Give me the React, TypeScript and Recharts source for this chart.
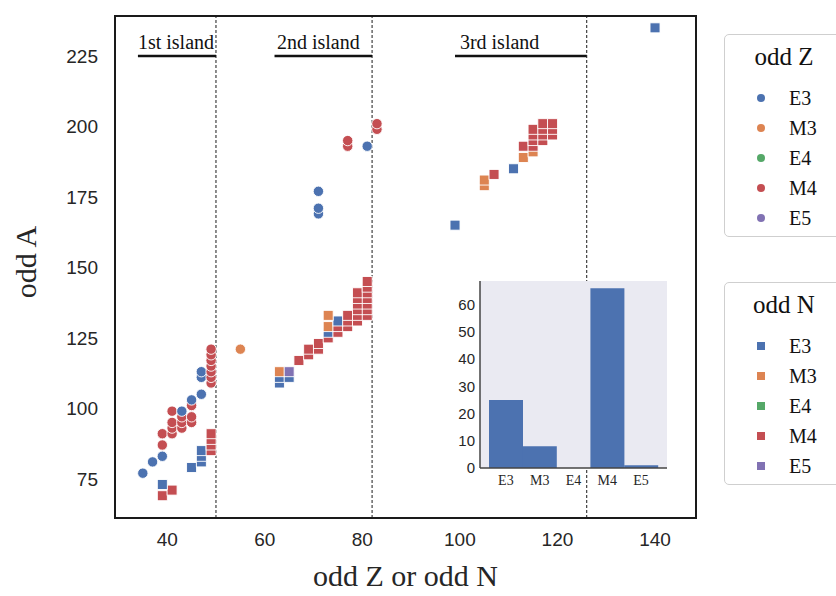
import React from "react";
import {
  ScatterChart,
  Scatter,
  XAxis,
  YAxis,
  ReferenceLine,
  ReferenceArea,
  ReferenceDot,
  BarChart,
  Bar,
  CartesianGrid,
} from "recharts";

const SERIF = '"Liberation Serif", "DejaVu Serif", serif';
const SANS = '"Liberation Sans", Arial, sans-serif';

const MULTIPOLARITIES = ["E3", "M3", "E4", "M4", "E5"];
const COLORS: Record<string, string> = {
  E3: "#4C72B0",
  M3: "#DD8452",
  E4: "#55A868",
  M4: "#C44E52",
  E5: "#8172B3",
};

// odd-Z isomers as [Z, A]
const oddZ_E3 = [[35, 77], [37, 81], [39, 83], [43, 99], [45, 103], [47, 105], [47, 111], [47, 113], [71, 169], [71, 171], [71, 177], [81, 193]];
const oddZ_M3 = [[55, 121]];
const oddZ_E4: number[][] = [];
const oddZ_M4 = [
  [39, 87], [39, 91],
  [41, 91], [41, 93], [41, 95], [41, 99],
  [43, 93], [43, 95], [43, 97],
  [45, 95], [45, 97], [45, 101],
  [49, 109], [49, 111], [49, 113], [49, 115], [49, 117], [49, 119], [49, 121],
  [77, 193], [77, 195],
  [83, 199], [83, 201],
];
const oddZ_E5: number[][] = [];

// odd-N isomers as [N, A]
const oddN_E3 = [[39, 73], [45, 79], [47, 81], [47, 83], [47, 85], [63, 109], [63, 111], [65, 111], [73, 127], [75, 131], [99, 165], [111, 185], [140, 235]];
const oddN_M3 = [[63, 113], [73, 129], [73, 133], [105, 179], [105, 181], [113, 189], [115, 191]];
const oddN_E4: number[][] = [];
const oddN_M4 = [
  [39, 69], [41, 71],
  [49, 85], [49, 87], [49, 89], [49, 91],
  [67, 117], [69, 119], [69, 121], [71, 121], [71, 123], [73, 125],
  [75, 127], [75, 129], [77, 129], [77, 131], [77, 133],
  [79, 131], [79, 133], [79, 135], [79, 137], [79, 139], [79, 141],
  [81, 133], [81, 135], [81, 137], [81, 139], [81, 141], [81, 143], [81, 145],
  [107, 183], [113, 193],
  [115, 193], [115, 195], [115, 197], [115, 199],
  [117, 195], [117, 197], [117, 199], [117, 201],
  [119, 197], [119, 199], [119, 201],
];
const oddN_E5 = [[65, 113]];

// inset histogram of all isomers
const histCounts = [25, 8, 0, 66, 1];
const histTicks = [0, 10, 20, 30, 40, 50, 60];

const xTicks = [40, 60, 80, 100, 120, 140];
const yTicks = [75, 100, 125, 150, 175, 200, 225];

const magicNumbers = [50, 82, 126];
const islandNames = ["1st island", "2nd island", "3rd island"];
const islandStart = [34, 62, 99];
const islandEnd = [50, 82, 126];
const islandLabelX = [34, 62.5, 100];
const islandA = 225;

const X_DOMAIN: [number, number] = [29.3, 148.4];
const Y_DOMAIN: [number, number] = [61.1, 239.2];

function toPoints(groups: Record<string, number[][]>) {
  const pts: { x: number; y: number; type: string }[] = [];
  for (const t of Object.keys(groups)) {
    for (const [x, y] of groups[t]) pts.push({ x, y, type: t });
  }
  // matplotlib draws in data order; sorted by A, so heavier ones sit on top
  return pts.sort((a, b) => a.y - b.y || a.x - b.x);
}

const oddZPoints = toPoints({ E3: oddZ_E3, M3: oddZ_M3, E4: oddZ_E4, M4: oddZ_M4, E5: oddZ_E5 });
const oddNPoints = toPoints({ E3: oddN_E3, M3: oddN_M3, E4: oddN_E4, M4: oddN_M4, E5: oddN_E5 });
const histData = MULTIPOLARITIES.map((name, i) => ({ name, count: histCounts[i] }));

const typeOf = (p: any) => p.payload?.type ?? p.type;

function CircleMark(p: any) {
  if (p.cx == null) return null;
  return <circle cx={p.cx} cy={p.cy} r={5.2} fill={COLORS[typeOf(p)]} stroke="#fff" strokeWidth={0.9} />;
}

function SquareMark(p: any) {
  if (p.cx == null) return null;
  return (
    <rect x={p.cx - 5} y={p.cy - 5} width={10} height={10} fill={COLORS[typeOf(p)]} stroke="#fff" strokeWidth={0.9} />
  );
}

function XTitle(props: any) {
  const vb = props.viewBox || { x: 115, y: 518, width: 581, height: 40 };
  return (
    <text x={vb.x + vb.width / 2} y={vb.y + 68} textAnchor="middle" fontFamily={SERIF} fontSize={30} fill="#262626">
      odd Z or odd N
    </text>
  );
}

function YTitle(props: any) {
  const vb = props.viewBox || { x: 55, y: 16, width: 60, height: 502 };
  const x = vb.x - 19;
  const y = vb.y + vb.height / 2 - 5;
  return (
    <text x={x} y={y} transform={`rotate(-90 ${x} ${y})`} textAnchor="middle" fontFamily={SERIF} fontSize={30} fill="#262626">
      odd A
    </text>
  );
}

function LegendBox({ title, top, square }: { title: string; top: number; square: boolean }) {
  return (
    <div
      style={{
        position: "absolute",
        left: 724,
        top,
        width: 130,
        height: 203,
        boxSizing: "border-box",
        border: "1.5px solid #cfcfcf",
        borderRadius: 5,
        background: "#fff",
      }}
    >
      <div
        style={{
          position: "absolute",
          left: 0,
          width: 118,
          top: 22 - 16,
          height: 32,
          lineHeight: "32px",
          textAlign: "center",
          fontFamily: SERIF,
          fontSize: 25,
          color: "#111",
        }}
      >
        {title}
      </div>
      {MULTIPOLARITIES.map((m, i) => (
        <div key={m} style={{ position: "absolute", left: 0, top: 62.5 + i * 30 - 15, height: 30, width: 130 }}>
          <div
            style={{
              position: "absolute",
              left: 32,
              top: 11,
              width: 8,
              height: 8,
              borderRadius: square ? 0 : 4,
              background: COLORS[m],
            }}
          />
          <div
            style={{
              position: "absolute",
              left: 64,
              top: 0,
              lineHeight: "30px",
              fontFamily: SERIF,
              fontSize: 20,
              color: "#111",
            }}
          >
            {m}
          </div>
        </div>
      ))}
    </div>
  );
}

export default function App() {
  return (
    <div style={{ position: "absolute", left: 0, top: 0, width: 836, height: 596, overflow: "hidden", background: "#fff" }}>
      <ScatterChart width={836} height={596} margin={{ top: 16, right: 140, bottom: 38, left: 55 }}>
        <XAxis
          type="number"
          dataKey="x"
          domain={X_DOMAIN}
          ticks={xTicks}
          allowDataOverflow
          axisLine={false}
          tickLine={false}
          tickSize={0}
          tickMargin={15}
          height={40}
          tick={{ fill: "#262626", fontSize: 19, fontFamily: SANS }}
          label={{ content: XTitle }}
        />
        <YAxis
          type="number"
          dataKey="y"
          domain={Y_DOMAIN}
          ticks={yTicks}
          allowDataOverflow
          axisLine={false}
          tickLine={false}
          tickSize={0}
          tickMargin={17}
          width={60}
          tick={{ fill: "#262626", fontSize: 19, fontFamily: SANS }}
          label={{ content: YTitle }}
        />
        {magicNumbers.map((m) => (
          <ReferenceLine key={m} x={m} stroke="#1a1a1a" strokeWidth={1} strokeDasharray="3 2" />
        ))}
        {islandNames.map((name, i) => (
          <ReferenceLine
            key={name}
            segment={[
              { x: islandStart[i], y: islandA },
              { x: islandEnd[i], y: islandA },
            ]}
            stroke="#111"
            strokeWidth={2.5}
          />
        ))}
        {islandNames.map((name, i) => (
          <ReferenceDot
            key={"lbl" + name}
            x={islandLabelX[i]}
            y={islandA}
            r={0}
            shape={(p: any) => (
              <text x={p.cx} y={p.cy - 7} fontFamily={SERIF} fontSize={20} fill="#111">
                {name}
              </text>
            )}
          />
        ))}
        <ReferenceArea
          x1={X_DOMAIN[0]}
          x2={X_DOMAIN[1]}
          y1={Y_DOMAIN[0]}
          y2={Y_DOMAIN[1]}
          fill="none"
          fillOpacity={0}
          stroke="#1a1a1a"
          strokeWidth={2}
        />
        <Scatter data={oddZPoints} shape={CircleMark} isAnimationActive={false} />
        <Scatter data={oddNPoints} shape={SquareMark} isAnimationActive={false} />
      </ScatterChart>

      <div style={{ position: "absolute", left: 440, top: 270 }}>
        <BarChart width={240} height={230} data={histData} margin={{ top: 11, right: 13, bottom: 8, left: 0 }} barCategoryGap={0}>
          <CartesianGrid fill="#EAEAF2" horizontal={false} vertical={false} />
          <XAxis
            dataKey="name"
            padding={{ left: 9, right: 9 }}
            interval={0}
            tickLine={false}
            tickSize={0}
            tickMargin={7}
            height={24}
            axisLine={{ stroke: "#444", strokeWidth: 1.5 }}
            tick={{ fill: "#262626", fontSize: 14, fontFamily: SERIF }}
          />
          <XAxis xAxisId="top" orientation="top" dataKey="name" height={0} tick={false} tickLine={false} axisLine={{ stroke: "#444", strokeWidth: 1.5 }} />
          <YAxis
            domain={[0, 68.7]}
            ticks={histTicks}
            allowDataOverflow
            width={40}
            tickLine={false}
            tickSize={0}
            tickMargin={5}
            axisLine={{ stroke: "#444", strokeWidth: 1.5 }}
            tick={{ fill: "#262626", fontSize: 15, fontFamily: SANS }}
          />
          <YAxis yAxisId="right" orientation="right" width={0} tick={false} tickLine={false} axisLine={{ stroke: "#444", strokeWidth: 1.5 }} />
          <Bar dataKey="count" fill="#4C72B0" isAnimationActive={false} />
        </BarChart>
      </div>

      <LegendBox title="odd Z" top={34} square={false} />
      <LegendBox title="odd N" top={282} square={true} />
    </div>
  );
}
